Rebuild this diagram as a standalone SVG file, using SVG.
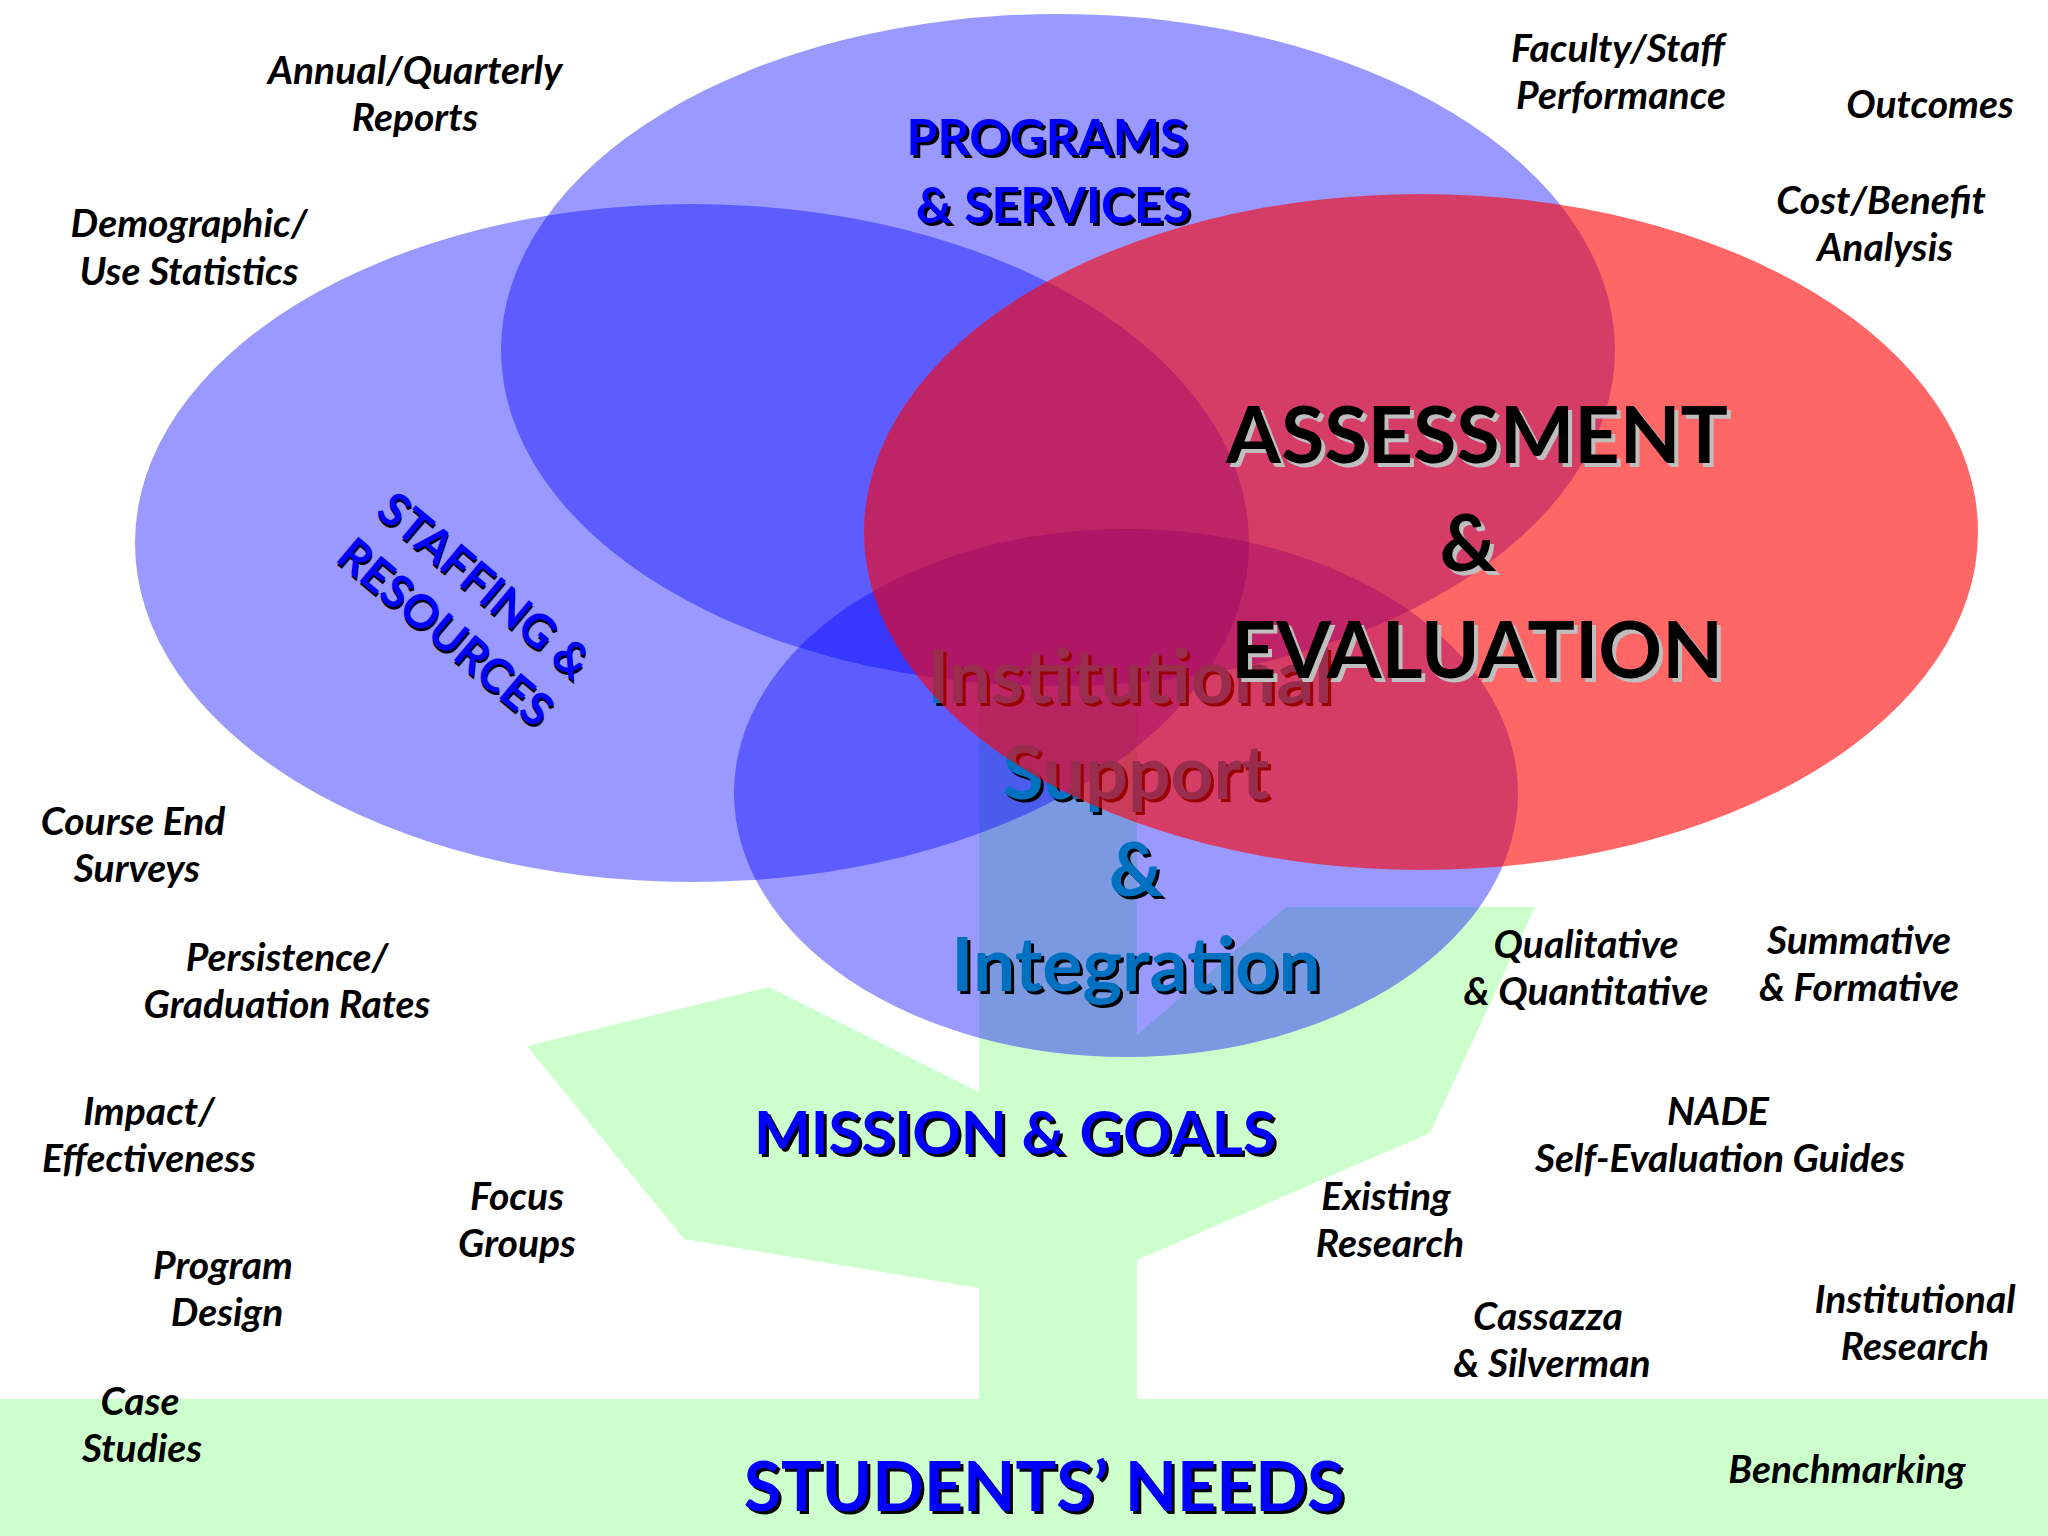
<svg xmlns="http://www.w3.org/2000/svg" width="2048" height="1536" viewBox="0 0 2048 1536">
<style>
.lbl{font-family:Lato,"Liberation Sans",sans-serif;font-weight:bold;font-style:italic;font-size:39px;fill:#000;text-anchor:middle}
.big{font-family:Lato,"Liberation Sans",sans-serif;font-weight:bold;text-anchor:middle}
.bl{fill:#0000ff}
.sh{fill:#000}
.gsh{fill:#bfbfbf}
.blue{fill:#0000ff;fill-opacity:0.4}
.red{fill:#ff0000;fill-opacity:0.6}
.grn{fill:#ccffcc}
</style>
<rect width="2048" height="1536" fill="#fff"/>
<g id="tree">
<rect class="grn" x="0" y="1399" width="2048" height="137"/>
<rect class="grn" x="979" y="700" width="158" height="700"/>
<polygon class="grn" points="527,1046 769,987 979,1092 979,1288 684,1239"/>
<polygon class="grn" points="1137,1260 1430,1133 1535,907 1286,907 1137,1035"/>
</g>
<g id="staffing">
<ellipse class="blue" cx="692" cy="543" rx="557" ry="339"/>
</g>
<g id="programs">
<ellipse class="blue" cx="1058" cy="350" rx="557" ry="336"/>
</g>
<g id="institutional">
<ellipse class="blue" cx="1126" cy="793" rx="392" ry="264"/>
<g class="big" font-size="75">
<text class="sh" x="1133" y="706">Institutional</text>
<text x="1130" y="703" fill="#0070c0">Institutional</text>
<text class="sh" x="1139" y="802">Support</text>
<text x="1136" y="799" fill="#0070c0">Support</text>
<text class="sh" x="1139" y="899">&amp;</text>
<text x="1136" y="896" fill="#0070c0">&amp;</text>
<text class="sh" x="1139" y="994">Integration</text>
<text x="1136" y="991" fill="#0070c0">Integration</text>
</g>
</g>
<g id="assessment">
<ellipse class="red" cx="1421" cy="532" rx="557" ry="338"/>
<g class="big" font-size="79">
<text class="gsh" x="1481" y="467">ASSESSMENT</text>
<text class="sh" x="1477" y="463">ASSESSMENT</text>
<text class="gsh" x="1472" y="575">&amp;</text>
<text class="sh" x="1468" y="571">&amp;</text>
<text class="gsh" x="1481" y="682">EVALUATION</text>
<text class="sh" x="1477" y="678">EVALUATION</text>
</g>
</g>
<g id="programs-label" class="big" font-size="50">
<text class="sh" x="1050" y="158">PROGRAMS</text>
<text class="bl" x="1047" y="155">PROGRAMS</text>
<text class="sh" x="1056" y="226">&amp; SERVICES</text>
<text class="bl" x="1053" y="223">&amp; SERVICES</text>
</g>
<g id="staffing-label" class="big" font-size="46" transform="translate(464,610) rotate(40)">
<text class="sh" x="2" y="-14">STAFFING &amp;</text>
<text class="bl" x="0" y="-16">STAFFING &amp;</text>
<text class="sh" x="2" y="47">RESOURCES</text>
<text class="bl" x="0" y="45">RESOURCES</text>
</g>
<g id="mission" class="big" font-size="60">
<text class="sh" x="1018" y="1157">MISSION &amp; GOALS</text>
<text class="bl" x="1015" y="1154">MISSION &amp; GOALS</text>
</g>
<g id="students" class="big" font-size="68">
<text class="sh" x="1047" y="1514">STUDENTS’ NEEDS</text>
<text class="bl" x="1044" y="1511">STUDENTS’ NEEDS</text>
</g>
<g id="labels" class="lbl">
<text x="415" y="84">Annual/Quarterly</text>
<text x="415" y="131">Reports</text>
<text x="189" y="237">Demographic/</text>
<text x="189" y="285">Use Statistics</text>
<text x="1618" y="62">Faculty/Staff</text>
<text x="1621" y="109">Performance</text>
<text x="1930" y="118">Outcomes</text>
<text x="1881" y="214">Cost/Benefit</text>
<text x="1885" y="261">Analysis</text>
<text x="133" y="835">Course End</text>
<text x="137" y="882">Surveys</text>
<text x="287" y="971">Persistence/</text>
<text x="287" y="1018">Graduation Rates</text>
<text x="149" y="1125">Impact/</text>
<text x="149" y="1172">Effectiveness</text>
<text x="517" y="1210">Focus</text>
<text x="517" y="1257">Groups</text>
<text x="223" y="1279">Program</text>
<text x="227" y="1326">Design</text>
<text x="140" y="1415">Case</text>
<text x="142" y="1462">Studies</text>
<text x="1586" y="958">Qualitative</text>
<text x="1586" y="1005">&amp; Quantitative</text>
<text x="1859" y="954">Summative</text>
<text x="1859" y="1001">&amp; Formative</text>
<text x="1718" y="1125">NADE</text>
<text x="1720" y="1172">Self-Evaluation Guides</text>
<text x="1386" y="1210">Existing</text>
<text x="1390" y="1257">Research</text>
<text x="1548" y="1330">Cassazza</text>
<text x="1552" y="1377">&amp; Silverman</text>
<text x="1915" y="1313">Institutional</text>
<text x="1915" y="1360">Research</text>
<text x="1847" y="1483">Benchmarking</text>
</g>
</svg>
